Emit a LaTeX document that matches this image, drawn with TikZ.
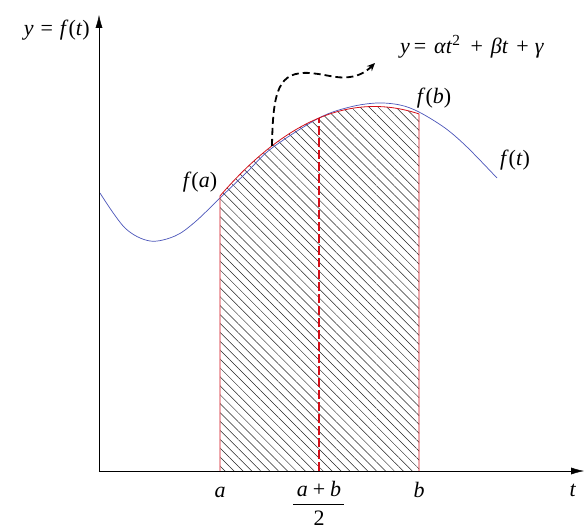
\documentclass[tikz,border=0pt]{standalone}
\usepackage{fontspec}
\setmainfont{Liberation Serif}
\usetikzlibrary{arrows.meta,patterns.meta}
\definecolor{curvablu}{RGB}{75,85,185}
\definecolor{rosso}{RGB}{210,15,25}

\begin{document}
\begin{tikzpicture}[x=1pt,y=1pt,
    etichetta/.style={font=\fontsize{22}{25}\selectfont,inner sep=1pt},
    declare function={parab(\t)=353+0.4158*(\t-220)-0.003758*(\t-220)^2;}]
        \useasboundingbox (-99,-60) rectangle (485,471);
        %tratteggio area
        \path[pattern={Lines[angle=-45,distance=6.3pt,line width=0.5pt]},pattern color=black!85]
            (121,0) -- plot[domain=121:320,samples=60] (\x,{parab(\x)}) -- (320,0) -- cycle;
        %curva f(t)
        \draw[curvablu,line width=0.7pt] plot[smooth,tension=0.55] coordinates {(1,278) (26,243) (51,230) (76,235) (96,249) (121,273) (148,299) (173,323) (220,353) (251,364) (278,368) (301,366) (320,359) (346,343) (368,324) (398,293)};
        %parabola e bordi
        \draw[rosso,line width=0.8pt] (121,0) -- plot[domain=121:320,samples=60] (\x,{parab(\x)}) -- (320,0);
        \draw[rosso,line width=1.7pt,dash pattern=on 9pt off 3pt] (220,0) -- (220,{parab(220)});
        %assi
        \draw[-{Latex[length=13pt,width=7pt]}] (0,0) -- (485,0);
        \draw[-{Latex[length=13pt,width=7pt]}] (0,0) -- (0,456);
        %freccia tratteggiata
        \coordinate (punto) at (173,{parab(173)});
        \coordinate (punta) at (276,408);
        \draw[line width=1.8pt,dash pattern=on 7pt off 4pt,-{Stealth[length=8pt,width=7pt]}] (punto) .. controls (174,380) and (179,400) .. (211,398) .. controls (232,396) and (240,391) .. (256,395) .. controls (264,397) and (270,402) .. (punta);
        %label
        \node[etichetta,anchor=east] (ylab) at (-8,441) {\textit{y}\hspace{7pt}=\hspace{7pt}\textit{f}(\textit{t})};
        \node[etichetta] (eq) at (373,424) {\textit{y}\hspace{4pt}=\hspace{8pt}\textit{αt}\textsuperscript{2}\hspace{10pt}+\hspace{8pt}\textit{βt}\hspace{8pt}+\hspace{6pt}\textit{γ}};
        \node[etichetta] (fa) at (101,289) {\textit{f}(\textit{a})};
        \node[etichetta] (fb) at (335,373) {\textit{f}(\textit{b})};
        \node[etichetta] (ft) at (416,311) {\textit{f}(\textit{t})};
        \node[etichetta,anchor=base] (la) at (121,-26) {\textit{a}};
        \node[etichetta,anchor=base] (lb) at (320,-26) {\textit{b}};
        \node[etichetta,anchor=base] (lt) at (474,-25) {\textit{t}};
        \node[etichetta,anchor=base] (num) at (220,-25) {\textit{a}\hspace{5pt}+\hspace{5pt}\textit{b}};
        \node[etichetta,anchor=base] (den) at (220,-54) {2};
        \draw[line width=0.8pt] (194,-33) -- (245,-33);
\end{tikzpicture}
\end{document}
